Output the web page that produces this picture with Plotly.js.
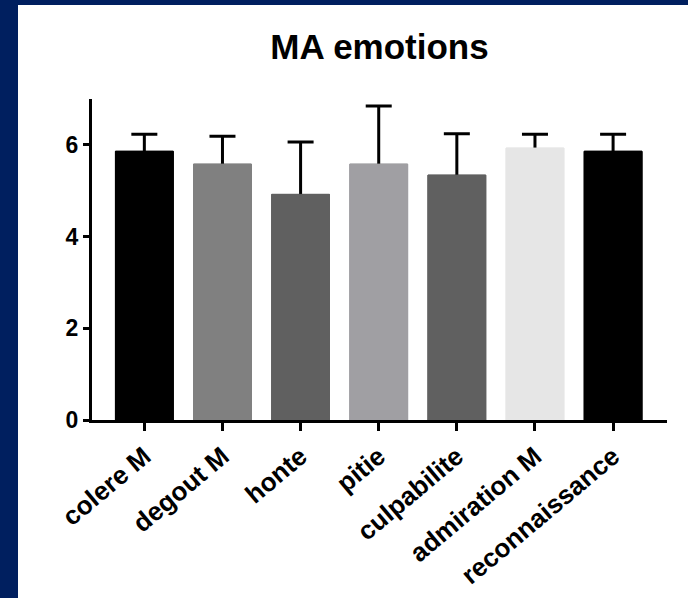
<!DOCTYPE html>
<html>
<head>
<meta charset="utf-8">
<script src="https://cdn.plot.ly/plotly-3.0.1.min.js"></script>
<style>
html,body{margin:0;padding:0;width:688px;height:598px;background:#001f5f;overflow:hidden;}
#chart{position:absolute;left:18px;top:5px;width:670px;height:593px;background:#fff;}
</style>
</head>
<body>
<div id="chart"></div>
<script>
const categories = ["colere M","degout M","honte","pitie","culpabilite","admiration M","reconnaissance"];
const means = [5.86, 5.58, 4.92, 5.58, 5.34, 5.93, 5.86];
const errors = [0.37, 0.61, 1.14, 1.27, 0.90, 0.30, 0.37];
const barColors = ["#000000","#808080","#606060","#a09fa3","#606060","#e6e6e6","#000000"];
const yTicks = [0, 2, 4, 6];

// bottom trace carries the (symmetric) error bars; top trace hides the lower half
const errTrace = {
  type: "bar", x: categories, y: means, width: 0.74,
  marker: {color: barColors, line: {color: barColors, width: 1}},
  error_y: {type: "data", symmetric: true, array: errors,
            color: "#000", thickness: 3, width: 13},
  hoverinfo: "none"
};
const barTrace = {
  type: "bar", x: categories, y: means, width: 0.74,
  marker: {color: barColors, line: {color: barColors, width: 1}},
  hoverinfo: "none"
};

const font = {family: "Liberation Sans, Arial, sans-serif", color: "#000"};
const layout = {
  width: 670, height: 593,
  margin: {l: 74, r: 21, t: 94, b: 178},
  paper_bgcolor: "#fff", plot_bgcolor: "#fff",
  showlegend: false, barmode: "overlay",
  title: {text: "<b>MA emotions</b>", font: Object.assign({}, font, {size: 35}),
          x: 0.5, xref: "paper", y: 1 - 42/593, yanchor: "middle"},
  xaxis: {
    range: [-0.67, 6.69], showgrid: false, zeroline: false,
    showline: true, linecolor: "#000", linewidth: 3,
    ticks: "outside", ticklen: 8, tickwidth: 3, tickcolor: "#000",
    tickangle: -40, tickfont: Object.assign({}, font, {size: 26, weight: "bold"})
  },
  yaxis: {
    range: [0, 7], tickvals: yTicks, ticktext: yTicks.map(v => "<b>" + v + "</b>"),
    showgrid: false, zeroline: false,
    showline: true, linecolor: "#000", linewidth: 3,
    ticks: "outside", ticklen: 6, tickwidth: 3, tickcolor: "#000",
    tickfont: Object.assign({}, font, {size: 23})
  }
};
Plotly.newPlot("chart", [errTrace, barTrace], layout, {staticPlot: true});
</script>
</body>
</html>
